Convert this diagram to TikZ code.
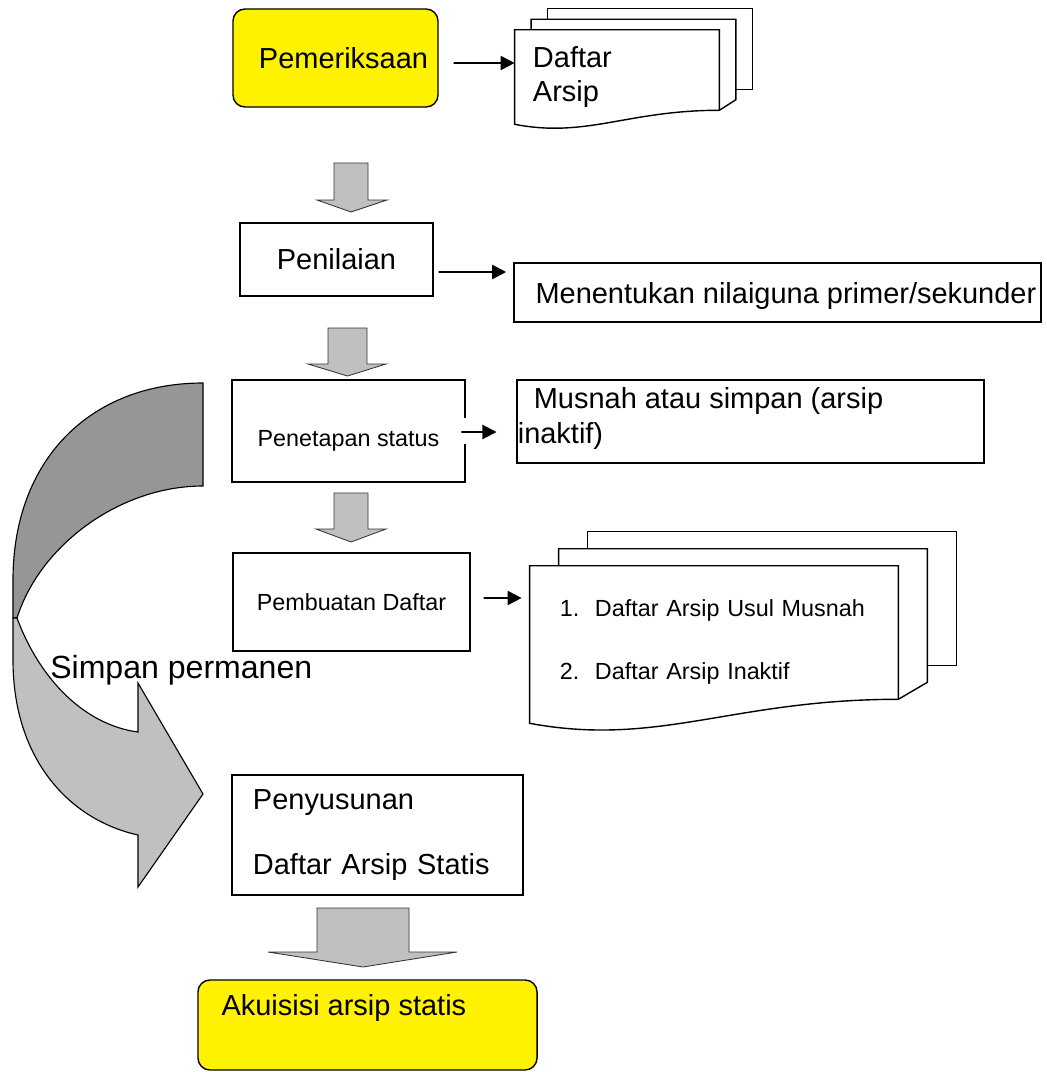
\documentclass[tikz,border=0pt]{standalone}
\usepackage{fontspec}
\setmainfont{Liberation Sans}
\usetikzlibrary{arrows.meta,calc}

\definecolor{abu}{HTML}{C0C0C0}
\definecolor{abugelap}{HTML}{969696}
\newcommand{\px}{0.025cm}
\newcommand{\besar}{\fontsize{20.6pt}{24.2pt}\selectfont}
\newcommand{\kecil}{\fontsize{16.6pt}{20pt}\selectfont}
\newcommand{\sedang}{\fontsize{22.8pt}{27pt}\selectfont}
% tumpukan tiga lembar di belakang node #1 (geser #2, #3; gelombang #4)
\newcommand{\tumpukan}[4]{%
  \draw[lembar] ($(#1.north west)+(2*#2,-#3)$) -- ($(#1.north west)+(2*#2,-2*#3)$) -- ($(#1.north east)+(2*#2,-2*#3)$) -- ($(#1.south east)+(2*#2,-2*#3)$) -- ($(#1.south east)+(#2,-2*#3)$);
  \draw[lembar] ($(#1.north west)+(#2,0)$) -- ($(#1.north west)+(#2,-#3)$) -- ($(#1.north east)+(#2,-#3)$) -- ($(#1.south east)+(#2,-#3)$) -- (#1.south east);
  \draw[lembar] (#1.north west) -- (#1.north east) -- (#1.south east) .. controls ($(#1.south east)!0.45!(#1.south west)$) and ($(#1.south west)!0.35!(#1.south east)+(0,2*#4)$) .. ($(#1.south west)+(0,#4)$) -- cycle;
}

\begin{document}
\begin{tikzpicture}[x=\px,y=-\px,>={Triangle[length=10pt,width=10pt]},font=\besar]
\tikzstyle{kotak}=[draw,line width=1pt,inner sep=0pt]
\tikzstyle{tebal}=[kotak,line width=2pt]
\tikzstyle{kuning}=[kotak,fill=yellow,rounded corners=0.3cm]
\tikzstyle{depan}=[inner sep=0pt,align=left]
\tikzstyle{lembar}=[line width=1pt]
\tikzstyle{panah}=[->,line width=1.4pt]
\tikzstyle{blok}=[fill=abu,draw=black!80,line width=0.6pt]
\useasboundingbox (0,0) rectangle (1046,1072);

% panah lengkung
\draw[fill=abugelap,line width=0.8pt] (203,383) .. controls (90,383) and (13,460) .. (13,580) -- (13,618) -- (17,618) .. controls (40,545) and (120,486) .. (203,486) -- cycle;
\draw[fill=abu,line width=0.8pt] (17,618) .. controls (40,680) and (85,725) .. (138,732) -- (138,683) -- (203,794) -- (138,887) -- (138,835) .. controls (70,820) and (13,760) .. (13,660) -- (13,618) -- cycle;

% panah blok
\foreach \xa/\xb/\xl/\xr/\ya/\yb/\yc in {334/368/317/387/163/200/212, 328/367/308/386/328/364/376, 334/368/316/386/493/529/542, 317/409/268/457/908/952/967}
  \draw[blok] (\xa,\ya) -- (\xb,\ya) -- (\xb,\yb) -- (\xr,\yb) -- ({(\xa+\xb)/2},\yc) -- (\xl,\yb) -- (\xa,\yb) -- cycle;

% kotak
\node[kuning,minimum width=5.125cm,minimum height=2.45cm] (periksa) at (335.5,58) {\hspace*{0.4cm}Pemeriksaan};
\node[kotak,minimum width=4.825cm,minimum height=1.825cm] (nilai) at (336.5,259.5) {Penilaian};
\node[tebal,minimum width=5.825cm,minimum height=2.55cm,font=\kecil] (tetap) at (348.5,431) {\rule{0pt}{25pt}Penetapan status};
\node[kotak,minimum width=5.925cm,minimum height=2.45cm,font=\kecil] (buat) at (351.5,602) {Pembuatan Daftar};
\node[kotak,minimum height=3cm,text width=6.225cm,align=left,inner xsep=0.525cm] (susun) at (377.5,835) {Penyusunan\\[22pt]Daftar Arsip Statis};
\node[kuning,minimum width=8.475cm,minimum height=2.25cm] (akuisisi) at (367.5,1025) {};
\node[anchor=west,inner sep=0pt] (akuisisiT) at ([xshift=0.6cm,yshift=0.425cm]akuisisi.west) {Akuisisi arsip statis};

\node[kotak,minimum width=13.175cm,minimum height=1.475cm] (tentu) at (777.5,292.5) {};
\node[anchor=west,inner sep=0pt] (tentuT) at ([xshift=0.55cm,yshift=-0.1cm]tentu.west) {Menentukan nilaiguna primer/sekunder};
\node[tebal,minimum width=11.675cm,minimum height=2.075cm] (musnah) at (750.5,421.5) {};
\node[anchor=west,align=left,inner sep=0pt] (musnahT) at ([xshift=0.05cm,yshift=0.075cm]musnah.west) {\hspace*{0.4cm}Musnah atau simpan (arsip\\inaktif)};

% dokumen
\node[depan,text width=4.2cm,inner xsep=0.45cm,minimum height=2cm] (daftar1) at (617,70) {\rule{0pt}{25pt}Daftar\\Arsip};
\tumpukan{daftar1}{16.5}{10.5}{14}
\node[depan,text width=7.7cm,inner xsep=0.75cm,minimum height=3.325cm,font=\kecil] (daftar2) at (714,632.5) {\rule{0pt}{25pt}1.\ \ Daftar Arsip Usul Musnah\\[24.8pt]2.\ \ Daftar Arsip Inaktif};
\tumpukan{daftar2}{29}{17}{24}

% panah
\draw[panah] ([xshift=0.375cm,yshift=-0.125cm]periksa.east) -- ([yshift=0.175cm]daftar1.west);
\draw[panah] ([xshift=0.125cm,yshift=-0.3125cm]nilai.east) -- ([xshift=-0.175cm,yshift=0.5125cm]tentu.west);
\draw[white,line width=3pt] ([yshift=0.325cm]tetap.east) -- ([yshift=-0.325cm]tetap.east);
\draw[panah] ([xshift=-0.125cm,yshift=-0.025cm]tetap.east) -- ([xshift=-0.475cm,yshift=-0.2625cm]musnah.west);
\draw[panah] ([xshift=0.325cm,yshift=0.1cm]buat.east) -- ([xshift=-0.2cm,yshift=0.8625cm]daftar2.west);

\node[anchor=west,inner sep=0pt,font=\sedang] (simpan) at (50,670) {Simpan permanen};
\end{tikzpicture}
\end{document}
